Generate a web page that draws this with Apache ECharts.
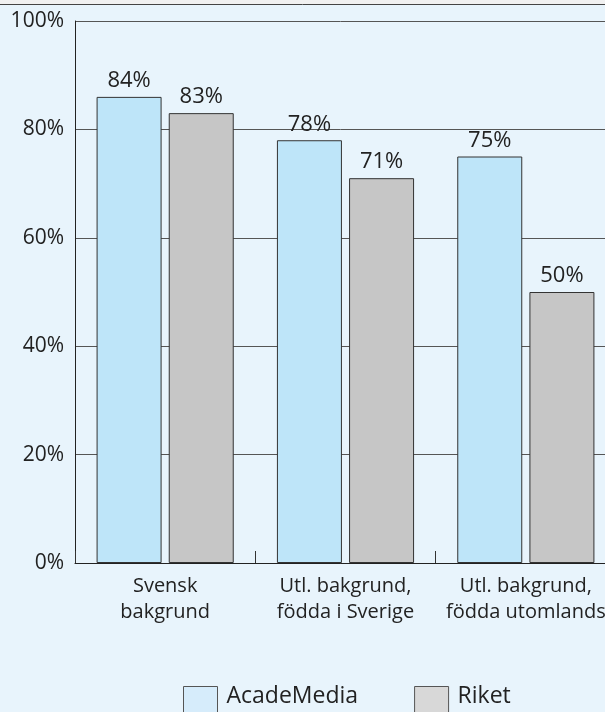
<!DOCTYPE html>
<html>
<head>
<meta charset="utf-8">
<script src="https://cdn.jsdelivr.net/npm/echarts@6/dist/echarts.min.js"></script>
<style>
  html, body { margin: 0; padding: 0; background: #e8f4fc; }
  #chart { width: 605px; height: 712px; }
</style>
</head>
<body>
<div id="chart"></div>
<script>
// data
var categories = ['Svensk\nbakgrund', 'Utl. bakgrund,\nfödda i Sverige', 'Utl. bakgrund,\nfödda utomlands']
var acadeMedia = [86, 78, 75]          // bar heights as drawn
var acadeMediaLabels = ['84%', '78%', '75%'] // printed labels
var riket = [83, 71, 50]
var riketLabels = ['83%', '71%', '50%']
var yTicks = [0, 20, 40, 60, 80, 100]

var font = 'Open Sans'
var chart = echarts.init(document.getElementById('chart'))

chart.setOption({
  backgroundColor: '#e8f4fc',
  animation: false,
  textStyle: { fontFamily: font },
  graphic: [
    { type: 'rect', shape: { x: 0, y: 0, width: 605, height: 4 }, style: { fill: '#f1f1f1' } },
    { type: 'line', shape: { x1: 0, y1: 4.5, x2: 605, y2: 4.5 }, style: { stroke: '#444', lineWidth: 1 } }
  ],
  grid: {
    left: 75,
    top: 21,
    width: 541,
    bottom: 149,
    outerBoundsMode: 'none'
  },
  legend: {
    left: 183,
    top: 685,
    padding: 0,
    itemWidth: 34,
    itemHeight: 40,
    itemGap: 56,
    icon: 'rect',
    formatter: '{t|{name}}',
    textStyle: {
      color: '#222',
      fontFamily: font,
      rich: { t: { fontSize: 23, lineHeight: 20, color: '#222', fontFamily: font, padding: [0, 0, 20, 4] } }
    },
    data: [
      { name: 'AcadeMedia', itemStyle: { color: '#d6ecfb', borderColor: '#555', borderWidth: 1 } },
      { name: 'Riket', itemStyle: { color: '#d8d8d8', borderColor: '#555', borderWidth: 1 } }
    ]
  },
  xAxis: {
    type: 'category',
    data: categories,
    axisLine: { lineStyle: { color: '#222', width: 1 } },
    axisTick: { show: true, inside: true, length: 12, interval: 0, lineStyle: { color: '#333' } },
    axisLabel: { interval: 0, fontSize: 20, color: '#222', lineHeight: 26, margin: 10, fontFamily: font }
  },
  yAxis: {
    type: 'value',
    min: 0,
    max: 100,
    interval: 20,
    axisLine: { show: true, lineStyle: { color: '#222', width: 1 } },
    axisTick: { show: false },
    axisLabel: {
      fontSize: 21,
      color: '#222',
      margin: 11,
      padding: [6, 0, 0, 0],
      fontFamily: font,
      formatter: function (v) { return yTicks.indexOf(v) >= 0 ? v + '%' : '' }
    },
    splitLine: { show: true, lineStyle: { color: '#555', width: 1 } }
  },
  series: [
    {
      name: 'AcadeMedia',
      type: 'bar',
      data: acadeMedia,
      barWidth: 65,
      barGap: '11%',
      itemStyle: { color: '#bee5f9', borderColor: '#333', borderWidth: 1 },
      label: {
        show: true,
        position: 'top',
        distance: 5,
        fontSize: 22,
        color: '#222',
        fontFamily: font,
        formatter: function (p) { return acadeMediaLabels[p.dataIndex] }
      }
    },
    {
      name: 'Riket',
      type: 'bar',
      data: riket,
      barWidth: 65,
      itemStyle: { color: '#c6c6c6', borderColor: '#333', borderWidth: 1 },
      label: {
        show: true,
        position: 'top',
        distance: 5,
        fontSize: 22,
        color: '#222',
        fontFamily: font,
        formatter: function (p) { return riketLabels[p.dataIndex] }
      }
    }
  ]
})
</script>
</body>
</html>
